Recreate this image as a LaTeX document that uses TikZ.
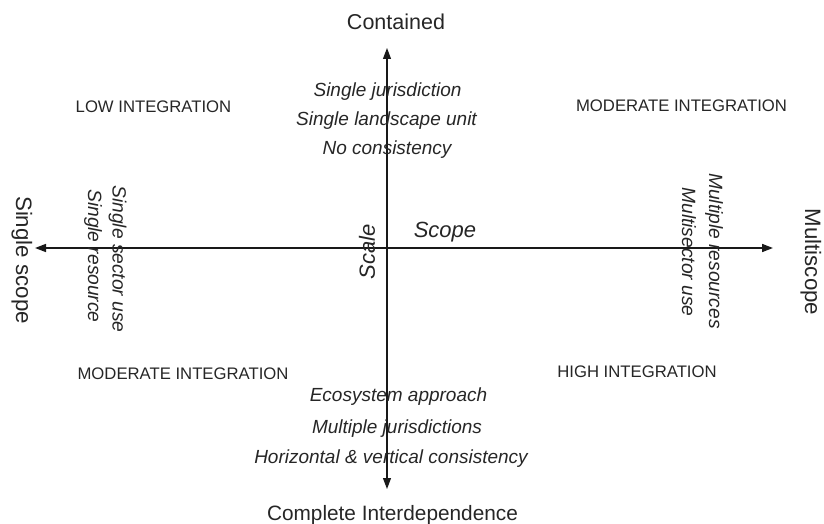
\documentclass[tikz,border=0pt]{standalone}
\usepackage{fontspec}
\setmainfont{Liberation Sans}
\usetikzlibrary{arrows.meta}
\begin{document}
\begin{tikzpicture}[x=1pt,y=-1pt,
  quad/.style={font=\fontsize{16.7}{20}\selectfont, anchor=base, inner sep=0pt, text=black!85},
  itl/.style={font=\fontsize{19}{23}\selectfont\itshape, anchor=base, inner sep=0pt, text=black!85},
  itlv/.style={font=\fontsize{19.2}{23}\selectfont\itshape, inner sep=0pt, rotate=-90, text=black!85},
  pole/.style={font=\fontsize{21.5}{25}\selectfont, anchor=base, inner sep=0pt, text=black!85},
  polev/.style={font=\fontsize{22.3}{25}\selectfont, inner sep=0pt, rotate=-90, text=black!85},
  axisline/.style={{Triangle[length=11pt,width=8pt]}-{Triangle[length=11pt,width=8pt]}, black!90}
]
\useasboundingbox (0,0) rectangle (824,524);
% axes
\coordinate (L) at (35,248);
\coordinate (R) at (773,248);
\coordinate (T) at (387,48);
\coordinate (B) at (387,489);
\draw[axisline, line width=1.6pt] (L) -- (R);
\draw[axisline, line width=1.1pt] (T) -- (B);
% poles
\node[pole] (contained) at (396,30) {Contained};
\node[pole, font=\fontsize{20.8}{25}\selectfont] (complete) at (392.5,520) {Complete Interdependence};
\node[polev] (single) at (22,260) {Single scope};
\node[polev] (multi) at (811,262) {Multiscope};
% axis names
\node[itl, font=\fontsize{22}{25}\selectfont\itshape] (scope) at (445,237) {Scope};
\node[font=\fontsize{22}{25}\selectfont\itshape, inner sep=0pt, rotate=90, text=black!85] (scale) at (367,252) {Scale};
% quadrant labels
\node[quad] (low) at (153.5,113) {LOW INTEGRATION};
\node[quad] (modtr) at (681.5,112) {MODERATE INTEGRATION};
\node[quad] (modbl) at (183,379) {MODERATE INTEGRATION};
\node[quad] (high) at (637,377) {HIGH INTEGRATION};
% top descriptors
\node[itl] (t1) at (387.5,97) {Single jurisdiction};
\node[itl] (t2) at (386.5,126) {Single landscape unit};
\node[itl] (t3) at (387,154) {No consistency};
% bottom descriptors
\node[itl] (b1) at (398.5,401) {Ecosystem approach};
\node[itl] (b2) at (397,433) {Multiple jurisdictions};
\node[itl] (b3) at (391,463) {Horizontal \& vertical consistency};
% left descriptors
\node[itlv] (l1) at (117.5,259) {Single sector use};
\node[itlv] (l2) at (93,256) {Single resource};
% right descriptors
\node[itlv] (r1) at (714,251) {Multiple resources};
\node[itlv] (r2) at (689,252) {Multisector use};
\end{tikzpicture}
\end{document}
